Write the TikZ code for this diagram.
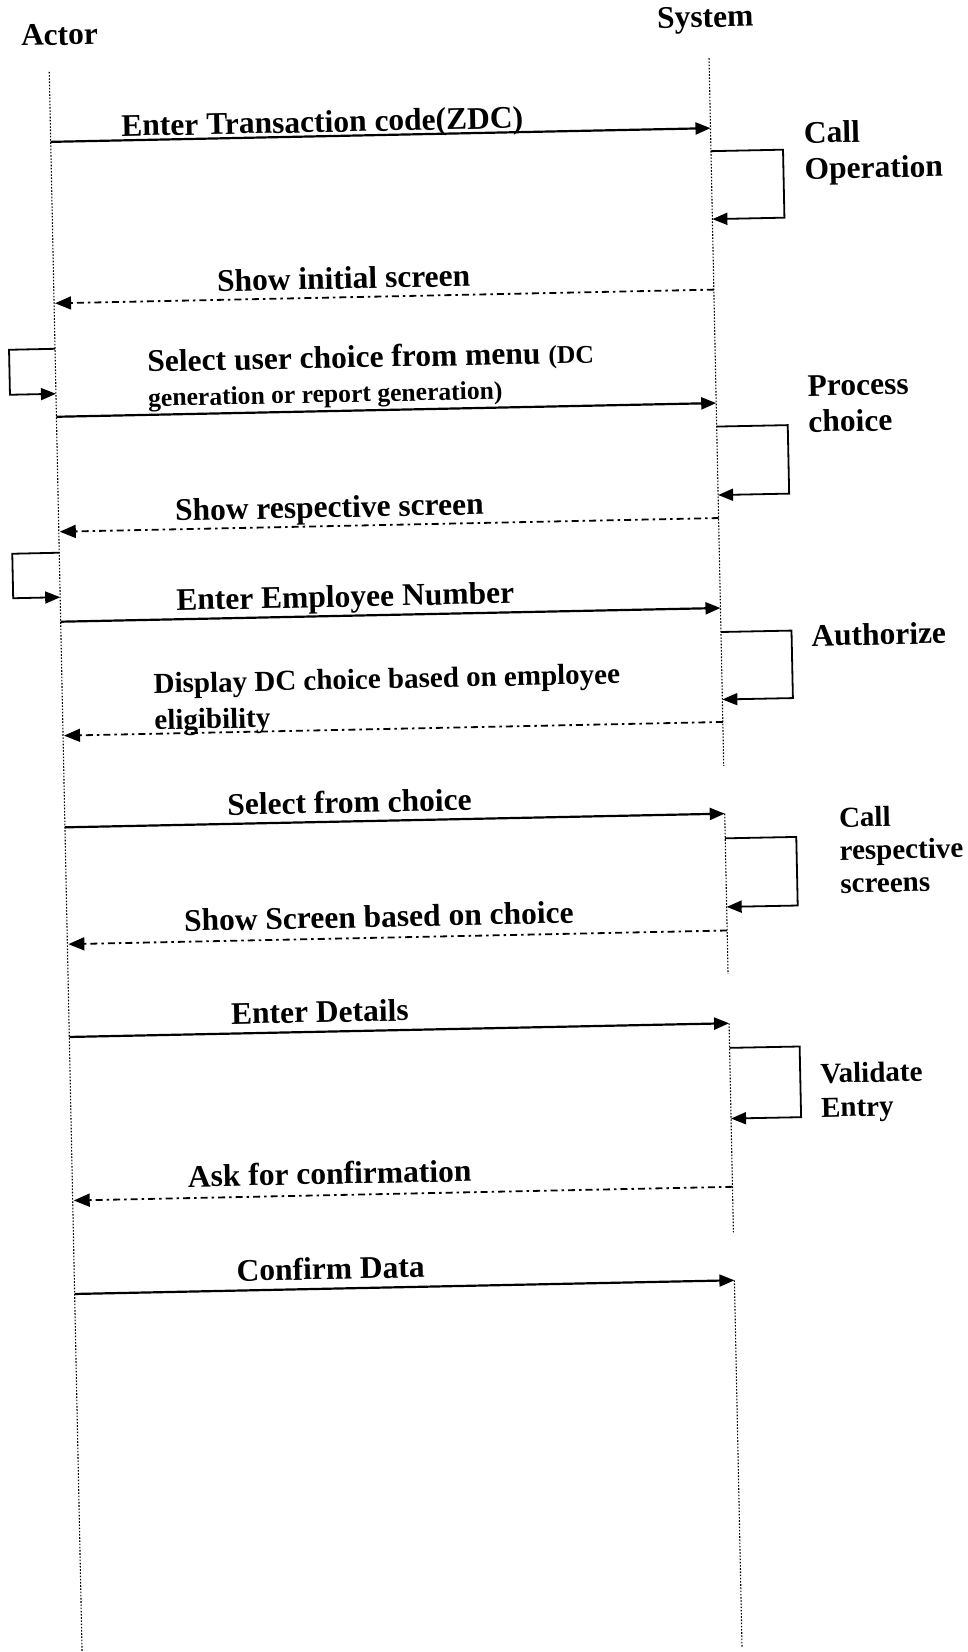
\documentclass[tikz,border=0pt]{standalone}
\usepackage{fontspec}
\setmainfont{Liberation Serif}
\usetikzlibrary{arrows.meta}
\tikzset{
  lifeline/.style={line width=1.1pt, dash pattern=on 1.6pt off 1.6pt},
  msgarrow/.style={line width=2.2pt, -{Triangle[length=15pt,width=12pt]}},
  replyarrow/.style={line width=1.8pt, dash pattern=on 7pt off 4pt on 2.5pt off 4pt, -{Triangle[length=16pt,width=13pt]}},
  loopline/.style={line width=1.8pt, -{Triangle[length=15pt,width=12pt]}},
  biglbl/.style={font=\bfseries\fontsize{31.5}{36}\selectfont, inner sep=0pt, anchor=base},
  bigleft/.style={font=\bfseries\fontsize{31.5}{36}\selectfont, inner sep=0pt, anchor=base west},
  midleft/.style={font=\bfseries\fontsize{29}{33}\selectfont, inner sep=0pt, anchor=base west},
  smallleft/.style={font=\bfseries\fontsize{25.6}{30}\selectfont, inner sep=0pt, anchor=base west},
}
\begin{document}
\begin{tikzpicture}[x=1pt,y=-1pt]
\useasboundingbox (0,0) rectangle (968,1652);
\begin{scope}[rotate around={1.19:(484,826)}, transform shape]
% participants
\node[biglbl] (actor) at (76,36.5) {Actor};
\node[biglbl] (system) at (722,32) {System};
% lifelines
\coordinate (A0) at (65,63);   \coordinate (A1) at (65,1644);
\coordinate (S0) at (725,63);  \coordinate (S1) at (725,771);
\coordinate (S2) at (725,818.7); \coordinate (S3) at (725,979);
\coordinate (S4) at (725,1028.4); \coordinate (S5) at (725,1237.6);
\coordinate (S6) at (725,1285.5); \coordinate (S7) at (725,1652);
\draw[lifeline] (A0) -- (A1);
\draw[lifeline] (S0) -- (S1);
\draw[lifeline] (S2) -- (S3);
\draw[lifeline] (S4) -- (S5);
\draw[lifeline] (S6) -- (S7);

% message 1
\coordinate (a1) at (65,133); \coordinate (s1) at (725,133);
\draw[msgarrow] (a1) -- (s1);
\node[biglbl] (l1) at (337,129) {Enter Transaction code(ZDC)};
% self call 1
\coordinate (c1a) at (725,156); \coordinate (c1b) at (725,224);
\draw[loopline] (c1a) -- (797,156) -- (797,224) -- (c1b);
\node[bigleft] (t1a) at (818,150) {Call};
\node[bigleft] (t1b) at (818,186) {Operation};

% reply 1
\coordinate (s2) at (725,294.5); \coordinate (a2) at (66,294.5);
\draw[replyarrow] (s2) -- (a2);
\node[biglbl] (l2) at (355,286) {Show initial screen};

% actor loop 1
\coordinate (al1a) at (65,340); \coordinate (al1b) at (65,385);
\draw[loopline] (al1a) -- (19,340) -- (19,385) -- (al1b);

% message 2
\coordinate (a3) at (65,408); \coordinate (s3) at (725,408);
\draw[msgarrow] (a3) -- (s3);
\node[bigleft] (l3a) at (157,365) {Select user choice from menu {\fontsize{25.6}{30}\selectfont(DC}};
\node[smallleft] (l3b) at (157,399.5) {generation or report generation)};
% self call 2
\coordinate (c2a) at (725,431.5); \coordinate (c2b) at (725,500);
\draw[loopline] (c2a) -- (796,431.5) -- (796,500) -- (c2b);
\node[bigleft] (t2a) at (816.6,403) {Process};
\node[bigleft] (t2b) at (816.6,439) {choice};

% reply 2
\coordinate (s4) at (725,523); \coordinate (a4) at (66,523);
\draw[replyarrow] (s4) -- (a4);
\node[biglbl] (l4) at (336,514.5) {Show respective screen};

% actor loop 2
\coordinate (al2a) at (65,544); \coordinate (al2b) at (65,588.5);
\draw[loopline] (al2a) -- (18,544) -- (18,588.5) -- (al2b);

% message 3
\coordinate (a5) at (65,613); \coordinate (s5) at (725,613);
\draw[msgarrow] (a5) -- (s5);
\node[biglbl] (l5) at (350,604) {Enter Employee Number};
% self call 3
\coordinate (c3a) at (725,637); \coordinate (c3b) at (725,704.5);
\draw[loopline] (c3a) -- (795.5,637) -- (795.5,704.5) -- (c3b);
\node[bigleft] (t3) at (815,653) {Authorize};

% reply 3
\coordinate (s6) at (725,727); \coordinate (a6) at (66,727);
\draw[replyarrow] (s6) -- (a6);
\node[midleft] (l6a) at (156.5,686.5) {Display DC choice based on employee};
\node[midleft] (l6b) at (156.5,723) {eligibility};

% message 4
\coordinate (a7) at (65,818.7); \coordinate (s7) at (725,818.7);
\draw[msgarrow] (a7) -- (s7);
\node[biglbl] (l7) at (350,810) {Select from choice};
% self call 4
\coordinate (c4a) at (725,843.4); \coordinate (c4b) at (725,912);
\draw[loopline] (c4a) -- (796,843.4) -- (796,912) -- (c4b);
\node[midleft] (t4a) at (839,834.5) {Call};
\node[midleft] (t4b) at (839,867.5) {respective};
\node[midleft] (t4c) at (839,900.5) {screens};

% reply 4
\coordinate (s8) at (725,935.6); \coordinate (a8) at (66,935.6);
\draw[replyarrow] (s8) -- (a8);
\node[biglbl] (l8) at (377,925) {Show Screen based on choice};

% message 5
\coordinate (a9) at (65,1028.4); \coordinate (s9) at (725,1028.4);
\draw[msgarrow] (a9) -- (s9);
\node[biglbl] (l9) at (316,1019) {Enter Details};
% self call 5
\coordinate (c5a) at (725,1053); \coordinate (c5b) at (725,1123.7);
\draw[loopline] (c5a) -- (795,1053) -- (795,1123.7) -- (c5b);
\node[midleft] (t5a) at (815,1090) {Validate};
\node[midleft] (t5b) at (815,1124) {Entry};

% reply 5
\coordinate (s10) at (725,1192); \coordinate (a10) at (66,1192);
\draw[replyarrow] (s10) -- (a10);
\node[biglbl] (l10) at (322.5,1181) {Ask for confirmation};

% message 6
\coordinate (a11) at (65,1285.5); \coordinate (s11) at (725,1285.5);
\draw[msgarrow] (a11) -- (s11);
\node[biglbl] (l11) at (321.5,1276) {Confirm Data};
\end{scope}
\end{tikzpicture}
\end{document}
